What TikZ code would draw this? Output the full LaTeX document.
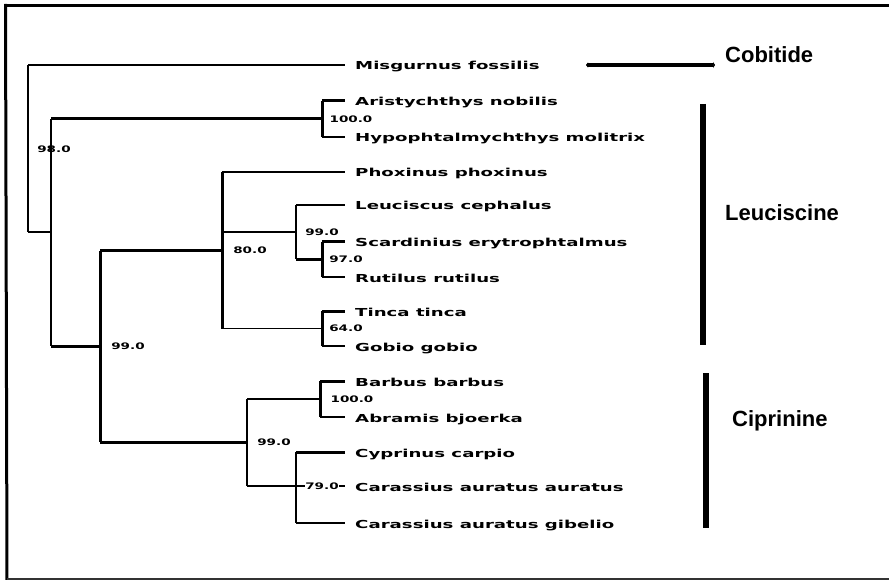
\documentclass[tikz,border=0pt]{standalone}
\usepackage{fontspec}
\usetikzlibrary{arrows.meta}
\newfontfamily\leaffont[FakeStretch=1.65]{DejaVu Sans}
\newfontfamily\bootfont[FakeStretch=1.5]{DejaVu Sans}
\newfontfamily\grpfont{Liberation Sans}
\begin{document}
\begin{tikzpicture}[x=1pt,y=-1pt,
  thn/.style={line width=1.5pt,line cap=square},
  thk/.style={line width=3pt,line cap=square},
  leaf/.style={anchor=base west,inner xsep=8pt,inner ysep=0pt,font=\leaffont\bfseries\fontsize{11}{11}\selectfont},
  boot/.style={inner sep=0.5pt,font=\bootfont\bfseries\fontsize{9}{9}\selectfont},
  grp/.style={anchor=base west,inner sep=0pt,font=\grpfont\bfseries\fontsize{22}{22}\selectfont},
  clbar/.style={line width=6.5pt},
  frm/.style={line width=3pt}]
\useasboundingbox (0,0) rectangle (889,580);
% frame
\coordinate (fTL) at (7,5.5);
\coordinate (fTR) at (889,5.5);
\coordinate (fBL) at (7,580);
\coordinate (fB1) at (7,579);
\coordinate (fB2) at (889,579);
\draw[frm] (fTR) -- (fTL|-fTR) ;
\draw[frm] (5.5,4) -- (fBL);
\draw[line width=1.5pt,black!80] (fB1) -- (fB2);
% leaves (west anchor at x=347, baseline = y+5)
\node[leaf] (lMis) at (347,70) {Misgurnus fossilis};
\node[leaf] (lAri) at (347,106) {Aristychthys nobilis};
\node[leaf] (lHyp) at (347,142) {Hypophtalmychthys molitrix};
\node[leaf] (lPho) at (347,177) {Phoxinus phoxinus};
\node[leaf] (lLeu) at (347,210) {Leuciscus cephalus};
\node[leaf] (lSca) at (347,247) {Scardinius erytrophtalmus};
\node[leaf] (lRut) at (347,282) {Rutilus rutilus};
\node[leaf] (lTin) at (347,316) {Tinca tinca};
\node[leaf] (lGob) at (347,351) {Gobio gobio};
\node[leaf] (lBar) at (347,386) {Barbus barbus};
\node[leaf] (lAbr) at (347,422) {Abramis bjoerka};
\node[leaf] (lCyp) at (347,457) {Cyprinus carpio};
\node[leaf] (lCaa) at (347,491) {Carassius auratus auratus};
\node[leaf] (lCag) at (347,528) {Carassius auratus gibelio};
% leaf tips
\coordinate (tMis) at (345,65);
\coordinate (tAri) at (345,101);
\coordinate (tHyp) at (345,137);
\coordinate (tPho) at (345,172);
\coordinate (tLeu) at (345,205);
\coordinate (tSca) at (345,242);
\coordinate (tRut) at (345,277);
\coordinate (tTin) at (345,311);
\coordinate (tGob) at (345,346);
\coordinate (tBar) at (345,381);
\coordinate (tAbr) at (345,417);
\coordinate (tCyp) at (345,452);
\coordinate (tCaa) at (345,486);
\coordinate (tCag) at (345,523);
% internal nodes
\coordinate (nR) at (28,148.5);
\coordinate (nA) at (51,232);
\coordinate (nAH) at (322,119);
\coordinate (nB) at (100,346);
\coordinate (nC) at (222,251);
\coordinate (nE) at (296,232);
\coordinate (nG) at (322,259.5);
\coordinate (nF) at (322,328.5);
\coordinate (nD) at (247,442);
\coordinate (nH) at (320,399);
\coordinate (nI) at (296,486);
% root
\draw[thn] (nR|-tMis) -- (nR|-nA);
\draw[thn] (nR|-tMis) -- (tMis);
\draw[thn] (nR|-nA) -- (nA);
% node A
\draw[thn] (nA|-nAH) -- (nA|-nB);
\draw[thk] (nA|-nAH) -- (nAH);
\draw[thn] (nA|-nB) -- (nB);
% node AH
\draw[thk] (nAH|-tAri) -- (nAH|-tHyp);
\draw[thk] (nAH|-tAri) -- (tAri);
\draw[thn] (nAH|-tHyp) -- (tHyp);
% node B
\draw[thk] (nB|-nC) -- (nB|-nD);
\draw[thk] (nB) -- (nB);
\draw[thk] (nA|-nB) -- (nB);
\draw[thk] (nB|-nC) -- (nC);
\draw[thk] (nB|-nD) -- (nD);
% node C
\draw[thk] (nC|-tPho) -- (nC|-nF);
\draw[thn] (nC|-tPho) -- (tPho);
\draw[thn] (nC|-nE) -- (nE);
\draw[thn] (nC|-nF) -- (nF);
% node E
\draw[thn] (nE|-tLeu) -- (nE|-nG);
\draw[thn] (nE|-tLeu) -- (tLeu);
\draw[thk] (nE|-nG) -- (nG);
% node G
\draw[thk] (nG|-tSca) -- (nG|-tRut);
\draw[thk] (nG|-tSca) -- (tSca);
\draw[thn] (nG|-tRut) -- (tRut);
% node F
\draw[thk] (nF|-tTin) -- (nF|-tGob);
\draw[thk] (nF|-tTin) -- (tTin);
\draw[thn] (nF|-tGob) -- (tGob);
% node D
\draw[thn] (nD|-nH) -- (nD|-nI);
\draw[thn] (nD|-nH) -- (nH);
\draw[thn] (nD|-nI) -- (nI);
% node H
\draw[thk] (nH|-tBar) -- (nH|-tAbr);
\draw[thk] (nH|-tBar) -- (tBar);
\draw[thn] (nH|-tAbr) -- (tAbr);
% node I
\draw[thn] (nI|-tCyp) -- (nI|-tCag);
\draw[thk] (nI|-tCyp) -- (tCyp);
\draw[thn] (nI|-tCaa) -- (tCaa);
\draw[thn] (nI|-tCag) -- (tCag);
% bootstrap values
\node[boot] (bAH) at (351,119) {100.0};
\node[boot] (bA) at (54,149) {98.0};
\node[boot] (bC) at (250,250) {80.0};
\node[boot] (bE) at (322,232) {99.0};
\node[boot] (bG) at (346,259) {97.0};
\node[boot] (bF) at (346,328) {64.0};
\node[boot] (bB) at (128,346) {99.0};
\node[boot] (bH) at (352,399) {100.0};
\node[boot] (bD) at (274,442) {99.0};
\node[boot,fill=white] (bI) at (322,486.5) {79.0};
% groups
\node[grp] (gCob) at (725,63) {Cobitide};
\node[grp] (gLeu) at (725,221) {Leuciscine};
\node[grp] (gCip) at (732,426) {Ciprinine};
\coordinate (aS) at (586,65);
\coordinate (aE) at (715,65);
\draw[line width=3.5pt,{Triangle[length=2pt,width=5pt]}-{Triangle[length=2pt,width=6pt]}] (aS) -- (aE);
\coordinate (bLt) at (703,104);
\coordinate (bLb) at (703,345);
\coordinate (bCt) at (706,373);
\coordinate (bCb) at (706,528);
\draw[clbar] (bLt) -- (bLb);
\draw[clbar] (bCt) -- (bCb);
\end{tikzpicture}
\end{document}
